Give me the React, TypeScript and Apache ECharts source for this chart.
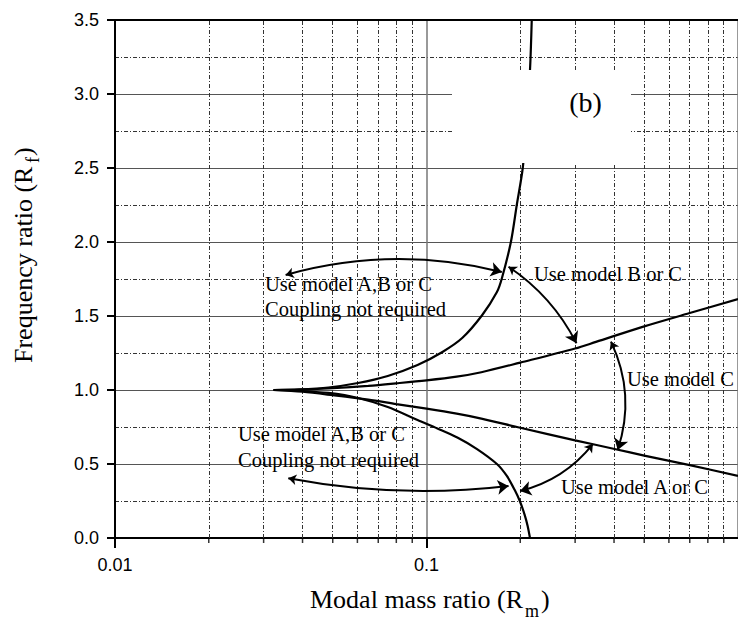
import React, { useEffect, useRef } from "react";
import * as echarts from "echarts";

// Boundary curves: [modal mass ratio Rm, frequency ratio Rf]
const upperBound: [number, number][] = [
  [0.0323, 1.0], [0.04, 1.003], [0.05, 1.012], [0.065, 1.028], [0.08, 1.045],
  [0.1, 1.065], [0.125, 1.09], [0.15, 1.12], [0.2, 1.185], [0.3, 1.28],
  [0.35, 1.325], [0.5, 1.43], [0.7, 1.52], [1.0, 1.615],
];
const lowerBound: [number, number][] = [
  [0.0323, 1.0], [0.04, 0.988], [0.05, 0.965], [0.065, 0.935], [0.08, 0.905],
  [0.1, 0.874], [0.125, 0.84], [0.15, 0.807], [0.2, 0.745], [0.3, 0.66],
  [0.405, 0.6], [0.5, 0.557], [0.7, 0.492], [1.0, 0.42],
];
const steepUpper: [number, number][] = [
  [0.0323, 1.0], [0.0388, 1.004], [0.0484, 1.017], [0.0603, 1.047], [0.0751, 1.095],
  [0.0936, 1.169], [0.1125, 1.257], [0.1302, 1.351], [0.1508, 1.505], [0.1683, 1.662],
  [0.1746, 1.755], [0.1866, 2.0], [0.1949, 2.25], [0.2037, 2.5], [0.2098, 2.82],
  [0.2149, 3.16], [0.2177, 3.5],
];
const steepLower: [number, number][] = [
  [0.0323, 1.0], [0.0388, 0.995], [0.0484, 0.98], [0.0603, 0.946], [0.0751, 0.885],
  [0.0936, 0.797], [0.1084, 0.74], [0.1256, 0.679], [0.1453, 0.601], [0.1683, 0.5],
  [0.1811, 0.419], [0.192, 0.324], [0.1993, 0.25], [0.2067, 0.155], [0.2112, 0.081],
  [0.2149, 0.0],
];

// Double-headed curved arrows: from, to, curveness
const arrowFrom: [number, number][] = [
  [0.0353, 1.777], [0.1834, 1.833], [0.391, 1.327], [0.342, 0.635], [0.036, 0.403],
];
const arrowTo: [number, number][] = [
  [0.1745, 1.797], [0.303, 1.316], [0.411, 0.595], [0.1997, 0.318], [0.1834, 0.351],
];
const arrowBend: number[] = [0.133, 0.13, 0.2, 0.17, -0.077];

// Axis ticks
const xMin = 0.01;
const xMax = 1;
const yMin = 0;
const yMax = 3.5;
const yStep = 0.5;
const minorXTicks: number[] = [
  0.02, 0.03, 0.04, 0.05, 0.06, 0.07, 0.08, 0.09,
  0.2, 0.3, 0.4, 0.5, 0.6, 0.7, 0.8, 0.9,
];

const SERIF = '"Liberation Serif", "Times New Roman", serif';
const SANS = '"Liberation Sans", Arial, sans-serif';

export default function App() {
  const ref = useRef<HTMLDivElement>(null);

  useEffect(() => {
    if (!ref.current) return;
    const chart = echarts.init(ref.current, undefined, { renderer: "svg" });

    const dotted = { color: "#333", width: 1, type: [4, 2, 1, 2] as any };
    const curveStyle = { color: "#000", width: 2.2 };

    const curve = (data: [number, number][]) => ({
      type: "line",
      data,
      symbol: "none",
      showSymbol: false,
      smooth: 0.3,
      lineStyle: curveStyle,
      z: 5,
      silent: true,
    });

    const txt = (text: string, x: number, baseline: number, size = 20.5) => ({
      type: "text",
      z: 120,
      x,
      y: baseline - 0.3375 * size,
      style: {
        text,
        fontSize: size,
        fontFamily: SERIF,
        fill: "#000",
        align: "left",
        verticalAlign: "middle",
      },
    });

    chart.setOption({
      animation: false,
      grid: { left: 115, top: 20, width: 628, height: 518, containLabel: false },
      xAxis: [
        {
          type: "log",
          logBase: 10,
          min: xMin,
          max: xMax,
          position: "bottom",
          axisLine: { show: true, lineStyle: { color: "#000", width: 2 } },
          axisTick: { show: true, inside: false, length: 10, lineStyle: { color: "#000", width: 2 } },
          axisLabel: {
            show: true,
            color: "#000",
            fontSize: 18,
            fontFamily: SANS,
            margin: 17.5,
            showMaxLabel: false,
            formatter: (v: number) => (v >= 0.1 ? v.toFixed(1) : v.toFixed(2)),
          },
          splitLine: { show: true, lineStyle: { color: "#777", width: 1.5, type: "solid" } },
          minorTick: { show: false },
          minorSplitLine: { show: false },
        },
        {
          type: "log",
          logBase: 10,
          min: xMin,
          max: xMax,
          position: "top",
          axisLine: { show: true, lineStyle: { color: "#000", width: 2 } },
          axisTick: { show: false },
          axisLabel: { show: false },
          splitLine: { show: false },
        },
      ],
      yAxis: {
        type: "value",
        min: yMin,
        max: yMax,
        interval: yStep,
        axisLine: { show: true, lineStyle: { color: "#000", width: 2 } },
        axisTick: { show: true, inside: false, length: 8, lineStyle: { color: "#000", width: 2 } },
        axisLabel: {
          color: "#000",
          fontSize: 18,
          fontFamily: SANS,
          margin: 16,
          formatter: (v: number) => v.toFixed(1),
        },
        splitLine: { show: true, lineStyle: { color: "#555", width: 1 } },
        minorTick: { show: false, splitNumber: 2 },
        minorSplitLine: { show: true, lineStyle: dotted },
      },
      series: [
        {
          type: "line",
          data: [],
          z: 1,
          silent: true,
          markLine: {
            silent: true,
            symbol: "none",
            label: { show: false },
            lineStyle: dotted,
            data: minorXTicks.map((v) => ({ xAxis: v })),
          },
        },
        {
          type: "scatter",
          data: minorXTicks.map((v) => [v, yMin]),
          symbol: "rect",
          symbolSize: [1.5, 5],
          symbolOffset: [0, 2.5],
          itemStyle: { color: "#000" },
          clip: false,
          silent: true,
          z: 6,
        },
        curve(upperBound),
        curve(lowerBound),
        curve(steepUpper),
        curve(steepLower),
        {
          type: "lines",
          coordinateSystem: "cartesian2d",
          symbol: ["arrow", "arrow"],
          symbolSize: [8, 11],
          silent: true,
          z: 6,
          lineStyle: { color: "#000", width: 2, opacity: 1 },
          data: arrowFrom.map((p, i) => ({
            coords: [p, arrowTo[i]],
            lineStyle: { curveness: arrowBend[i], color: "#000", width: 2 },
          })),
        },
      ],
      graphic: [
        { type: "rect", z: 100, shape: { x: 452, y: 70, width: 179, height: 93 }, style: { fill: "#fff" } },
        {
          type: "text",
          z: 121,
          x: 585.5,
          y: 112 - 0.3375 * 28,
          style: { text: "(b)", fontSize: 28, fontFamily: SERIF, fill: "#000", align: "center", verticalAlign: "middle" },
        },
        txt("Use model A,B or C", 265, 290.5),
        txt("Coupling not required", 265, 315.5),
        txt("Use model B or C", 534, 281),
        txt("Use model C", 627, 386),
        txt("Use model A,B or C", 238, 441),
        txt("Coupling not required", 238, 467),
        txt("Use model A or C", 561, 494),
        // x axis title
        txt("Modal mass ratio (R", 310, 608, 26),
        txt("m", 525, 617, 18),
        txt(")", 541, 608, 26),
        // y axis title (rotated)
        {
          type: "group",
          x: 32,
          y: 363,
          rotation: Math.PI / 2,
          z: 120,
          children: [
            txt("Frequency ratio (R", 0, 0, 26),
            txt("f", 200, 7, 18),
            txt(")", 207, 0, 26),
          ],
        },
      ],
    });

    return () => chart.dispose();
  }, []);

  return (
    <div
      ref={ref}
      style={{ position: "absolute", left: 0, top: 0, width: 738, height: 621, background: "#fff" }}
    />
  );
}
